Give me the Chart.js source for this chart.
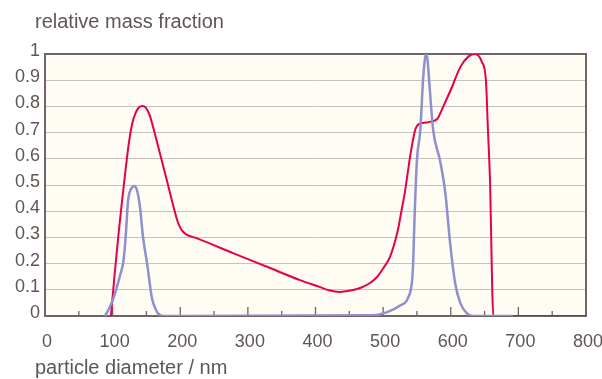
<!DOCTYPE html>
<html>
<head>
<meta charset="utf-8">
<script src="https://cdn.jsdelivr.net/npm/chart.js@4/dist/chart.umd.min.js"></script>
<style>
  html, body { margin: 0; padding: 0; background: #ffffff; }
  #wrap { width: 602px; height: 379px; }
</style>
</head>
<body>
<div id="wrap"><canvas id="sizeChart" width="602" height="379"></canvas></div>
<script>
// particle size distributions (diameter in nm, relative mass fraction)
const broadDiameter = [97.5, 103, 109, 114, 119, 124, 129, 134, 139, 144, 149, 155, 162, 170, 180, 190, 197, 203, 210, 224,
  278, 330, 377, 407, 420, 436, 450, 466, 480, 491, 501, 510, 516, 522, 527, 532, 536, 540, 544, 548, 553, 559, 570, 580,
  589, 602, 614, 626, 636, 646, 652, 655, 658, 663, 800];
const broadFraction = [0, 0.16, 0.32, 0.44, 0.555, 0.66, 0.735, 0.775, 0.797, 0.802, 0.795, 0.765, 0.7, 0.62, 0.52, 0.417, 0.354, 0.325, 0.31, 0.297,
  0.24, 0.186, 0.137, 0.11, 0.098, 0.092, 0.096, 0.107, 0.125, 0.149, 0.185, 0.225, 0.27, 0.33, 0.4, 0.47, 0.54, 0.61, 0.67, 0.715, 0.733, 0.737, 0.742, 0.752,
  0.8, 0.875, 0.95, 0.99, 1.0, 0.97, 0.9, 0.71, 0.52, 0, 0];

const narrowDiameter = [88.8, 94, 99, 104, 108, 112, 115.4, 118, 120, 122.8, 125.5, 128.7, 131.7, 136, 140.5, 145, 151, 158, 163, 167, 174.6,
  485, 506, 525, 537, 543, 544.5, 546, 550, 555, 559, 561.5, 563.6, 565.8, 568, 574, 584, 592, 599, 606.5, 614, 624, 633, 692];
const narrowFraction = [0, 0.025, 0.053, 0.09, 0.126, 0.165, 0.2, 0.26, 0.33, 0.44, 0.475, 0.49, 0.496, 0.48, 0.415, 0.3, 0.2, 0.07, 0.03, 0.01, 0,
  0.003, 0.015, 0.04, 0.07, 0.14, 0.21, 0.34, 0.595, 0.71, 0.9, 0.975, 1.0, 0.975, 0.9, 0.71, 0.595, 0.47, 0.28, 0.126, 0.05, 0.01, 0, 0];

const xTicks = [0, 100, 200, 300, 400, 500, 600, 700, 800];
const xMinorTicks = [50, 150, 250, 350, 450, 550, 650, 750];
const yTicks = [0, 0.1, 0.2, 0.3, 0.4, 0.5, 0.6, 0.7, 0.8, 0.9, 1];
const yLabels = ['0', '0.1', '0.2', '0.3', '0.4', '0.5', '0.6', '0.7', '0.8', '0.9', '1'];

const yCaption = 'relative mass fraction';
const xCaption = 'particle diameter / nm';

const textColor = '#5f5556';
const frameColor = '#6f6567';
const fontFamily = '"Liberation Sans", Arial, Helvetica, sans-serif';

function toPoints(xs, ys) {
    return xs.map((x, i) => ({ x: x, y: ys[i] }));
}

// cream plot background, dark frame, inward ticks on the x axis and the two captions
const chartFrame = {
    id: 'chartFrame',
    beforeDraw(chart) {
        const { ctx, chartArea: a } = chart;
        ctx.save();
        ctx.fillStyle = '#fffcf3';
        ctx.fillRect(a.left, a.top, a.right - a.left, a.bottom - a.top);
        ctx.restore();
    },
    beforeDatasetsDraw(chart) {
        const { ctx, chartArea: a } = chart;
        const xs = chart.scales.x;
        ctx.save();
        ctx.strokeStyle = frameColor;
        ctx.lineWidth = 2;
        ctx.strokeRect(a.left, a.top, a.right - a.left, a.bottom - a.top);

        ctx.lineWidth = 1.3;
        ctx.beginPath();
        xTicks.slice(1, -1).forEach(v => {
            const px = xs.getPixelForValue(v);
            ctx.moveTo(px, a.bottom);
            ctx.lineTo(px, a.bottom - 9);
        });
        xMinorTicks.forEach(v => {
            const px = xs.getPixelForValue(v);
            ctx.moveTo(px, a.bottom);
            ctx.lineTo(px, a.bottom - 5);
        });
        ctx.stroke();
        ctx.restore();
    },
    afterDraw(chart) {
        const ctx = chart.ctx;
        ctx.save();
        ctx.fillStyle = textColor;
        ctx.font = '20px ' + fontFamily;
        ctx.textAlign = 'left';
        ctx.textBaseline = 'alphabetic';
        ctx.fillText(yCaption, 35, 28);
        ctx.fillText(xCaption, 35, 374);
        ctx.restore();
    }
};

const ctx = document.getElementById('sizeChart').getContext('2d');
const sizeChart = new Chart(ctx, {
    type: 'line',
    data: {
        datasets: [
            {
                label: 'narrow',
                data: toPoints(narrowDiameter, narrowFraction),
                borderColor: '#8d8fcf',
                borderWidth: 2.5,
                pointRadius: 0,
                cubicInterpolationMode: 'monotone',
                fill: false
            },
            {
                label: 'broad',
                data: toPoints(broadDiameter, broadFraction),
                borderColor: '#e4004b',
                borderWidth: 2,
                pointRadius: 0,
                cubicInterpolationMode: 'monotone',
                fill: false
            }
        ]
    },
    options: {
        responsive: false,
        animation: false,
        devicePixelRatio: 1,
        layout: { padding: { left: 0, top: 54, right: 16, bottom: 0 } },
        plugins: {
            legend: { display: false },
            tooltip: { enabled: false }
        },
        scales: {
            x: {
                type: 'linear',
                min: 0,
                max: 800,
                afterFit: axis => {
                    axis.height = 63;
                    axis.paddingLeft = 0;
                    axis.paddingRight = 0;
                },
                afterBuildTicks: axis => { axis.ticks = xTicks.map(v => ({ value: v })); },
                grid: { display: false },
                border: { display: false },
                ticks: {
                    color: textColor,
                    font: { family: fontFamily, size: 18 },
                    padding: 7,
                    labelOffset: 2,
                    maxRotation: 0
                }
            },
            y: {
                type: 'linear',
                min: 0,
                max: 1,
                afterFit: axis => {
                    axis.width = 45;
                    axis.paddingTop = 0;
                    axis.paddingBottom = 0;
                },
                afterBuildTicks: axis => { axis.ticks = yTicks.map(v => ({ value: v })); },
                grid: { color: '#cbbfbf', lineWidth: 1, drawTicks: false },
                border: { display: false },
                ticks: {
                    color: textColor,
                    font: { family: fontFamily, size: 18 },
                    padding: 5,
                    labelOffset: -3,
                    callback: (value, index) => yLabels[index]
                }
            }
        }
    },
    plugins: [chartFrame]
});
</script>
</body>
</html>
